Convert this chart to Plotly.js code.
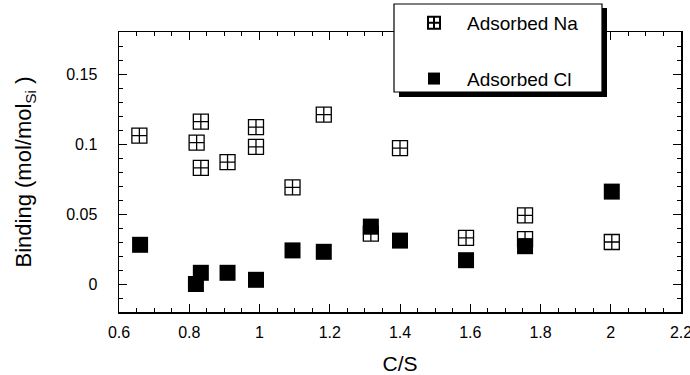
<!DOCTYPE html>
<html>
<head>
<meta charset="utf-8">
<script src="https://cdn.plot.ly/plotly-3.0.1.min.js"></script>
<style>html,body{margin:0;padding:0;background:#fff;}#chart{width:690px;height:375px;}</style>
</head>
<body>
<div id="chart"></div>
<script>
const naCS = [0.658, 0.821, 0.833, 0.833, 0.909, 0.990, 0.990, 1.094, 1.183, 1.317, 1.400, 1.588, 1.756, 1.756, 2.003];
const naBinding = [0.106, 0.101, 0.116, 0.083, 0.087, 0.112, 0.098, 0.069, 0.121, 0.036, 0.097, 0.033, 0.049, 0.032, 0.030];
const clCS = [0.660, 0.819, 0.833, 0.909, 0.990, 1.094, 1.183, 1.317, 1.400, 1.588, 1.756, 2.003];
const clBinding = [0.028, 0.000, 0.008, 0.008, 0.003, 0.024, 0.023, 0.041, 0.031, 0.017, 0.027, 0.066];
const seriesNames = ['Adsorbed Na', 'Adsorbed Cl'];
const xTicks = [0.6, 0.8, 1, 1.2, 1.4, 1.6, 1.8, 2, 2.2];
const xTickText = ['0.6', '0.8', '1', '1.2', '1.4', '1.6', '1.8', '2', '2.2'];
const yTicks = [0, 0.05, 0.1, 0.15];
const yTickText = ['0', '0.05', '0.1', '0.15'];
const xRange = [0.6, 2.2];
const yRange = [-0.02, 0.18];

const FONT = 'Liberation Sans, Arial, sans-serif';

const traces = [
  {
    x: naCS, y: naBinding, type: 'scatter', mode: 'markers', name: seriesNames[0],
    legendgroup: 'a',
    marker: {symbol: 'square-cross-open', size: 15, color: '#000', line: {width: 1.3, color: '#000'}}
  },
  {
    x: clCS, y: clBinding, type: 'scatter', mode: 'markers', name: seriesNames[1],
    legendgroup: 'b',
    marker: {symbol: 'square', size: 16, color: '#000', line: {width: 0}}
  },
  {
    x: [], y: [], xaxis: 'x2', yaxis: 'y2', type: 'scatter', mode: 'markers',
    showlegend: false, hoverinfo: 'skip'
  }
];

const tickStyle = {ticks: 'inside', ticklen: 8, tickwidth: 1, tickcolor: '#000'};

const xaxis = Object.assign({
  showgrid: false, zeroline: false, showline: true, linecolor: '#000', linewidth: 1.5, mirror: true,
  range: xRange, tickmode: 'array', tickvals: xTicks, ticktext: xTickText,
  tickfont: {family: FONT, size: 16, color: '#000'}, ticklabelstandoff: 5, ticklabeloverflow: 'allow',
  minor: {dtick: 0.05, tick0: 0.6, ticks: 'inside', ticklen: 4, tickcolor: '#000', tickwidth: 1},
  title: {text: 'C/S', font: {family: FONT, size: 21, color: '#000'}, standoff: 17}
}, tickStyle);

const yaxis = Object.assign({
  showgrid: false, zeroline: false, showline: true, linecolor: '#000', linewidth: 1.5, mirror: true,
  range: yRange, tickmode: 'array', tickvals: yTicks, ticktext: yTickText,
  tickfont: {family: FONT, size: 16, color: '#000'}, ticklabelstandoff: 17,
  minor: {dtick: 0.01, tick0: 0, ticks: 'inside', ticklen: 4, tickcolor: '#000', tickwidth: 1},
  title: {text: 'Binding (mol/mol<sub>Si</sub> )\u00a0\u00a0\u00a0', font: {family: FONT, size: 22, color: '#000'}, standoff: 28}
}, tickStyle);

const xaxis2 = Object.assign({
  overlaying: 'x', side: 'top', anchor: 'y2', showgrid: false, zeroline: false, showline: false,
  range: xRange, tickmode: 'array', tickvals: xTicks, showticklabels: false,
  minor: {dtick: 0.05, tick0: 0.6, ticks: 'inside', ticklen: 4, tickcolor: '#000', tickwidth: 1}
}, tickStyle);

const yaxis2 = Object.assign({
  overlaying: 'y', side: 'right', anchor: 'x2', showgrid: false, zeroline: false, showline: false,
  range: yRange, tickmode: 'array', tickvals: yTicks, showticklabels: false,
  minor: {dtick: 0.01, tick0: 0, ticks: 'inside', ticklen: 4, tickcolor: '#000', tickwidth: 1}
}, tickStyle);

const W = 562, H = 280, L = 119, B = 312;
function px(v) { return (v - L) / W; }
function py(v) { return (B - v) / H; }

const layout = {
  width: 690, height: 375,
  margin: {l: 119, r: 9, t: 32, b: 63, autoexpand: false},
  paper_bgcolor: '#fff', plot_bgcolor: '#fff',
  xaxis: xaxis, yaxis: yaxis, xaxis2: xaxis2, yaxis2: yaxis2,
  showlegend: true,
  legend: {
    x: px(401), y: py(4), xanchor: 'left', yanchor: 'top',
    bgcolor: 'rgba(0,0,0,0)', borderwidth: 0,
    font: {family: FONT, size: 19, color: '#000'},
    traceorder: 'grouped', tracegroupgap: 28, itemwidth: 56, itemsizing: 'constant'
  },
  shapes: [
    {type: 'rect', xref: 'paper', yref: 'paper', layer: 'above',
     x0: px(399), x1: px(607), y0: py(97), y1: py(8),
     fillcolor: '#000', line: {width: 0}},
    {type: 'rect', xref: 'paper', yref: 'paper', layer: 'above',
     x0: px(394), x1: px(602), y0: py(92), y1: py(4),
     fillcolor: '#fff', line: {width: 1.2, color: '#000'}}
  ]
};

Plotly.newPlot('chart', traces, layout, {displayModeBar: false, staticPlot: true});
</script>
</body>
</html>
